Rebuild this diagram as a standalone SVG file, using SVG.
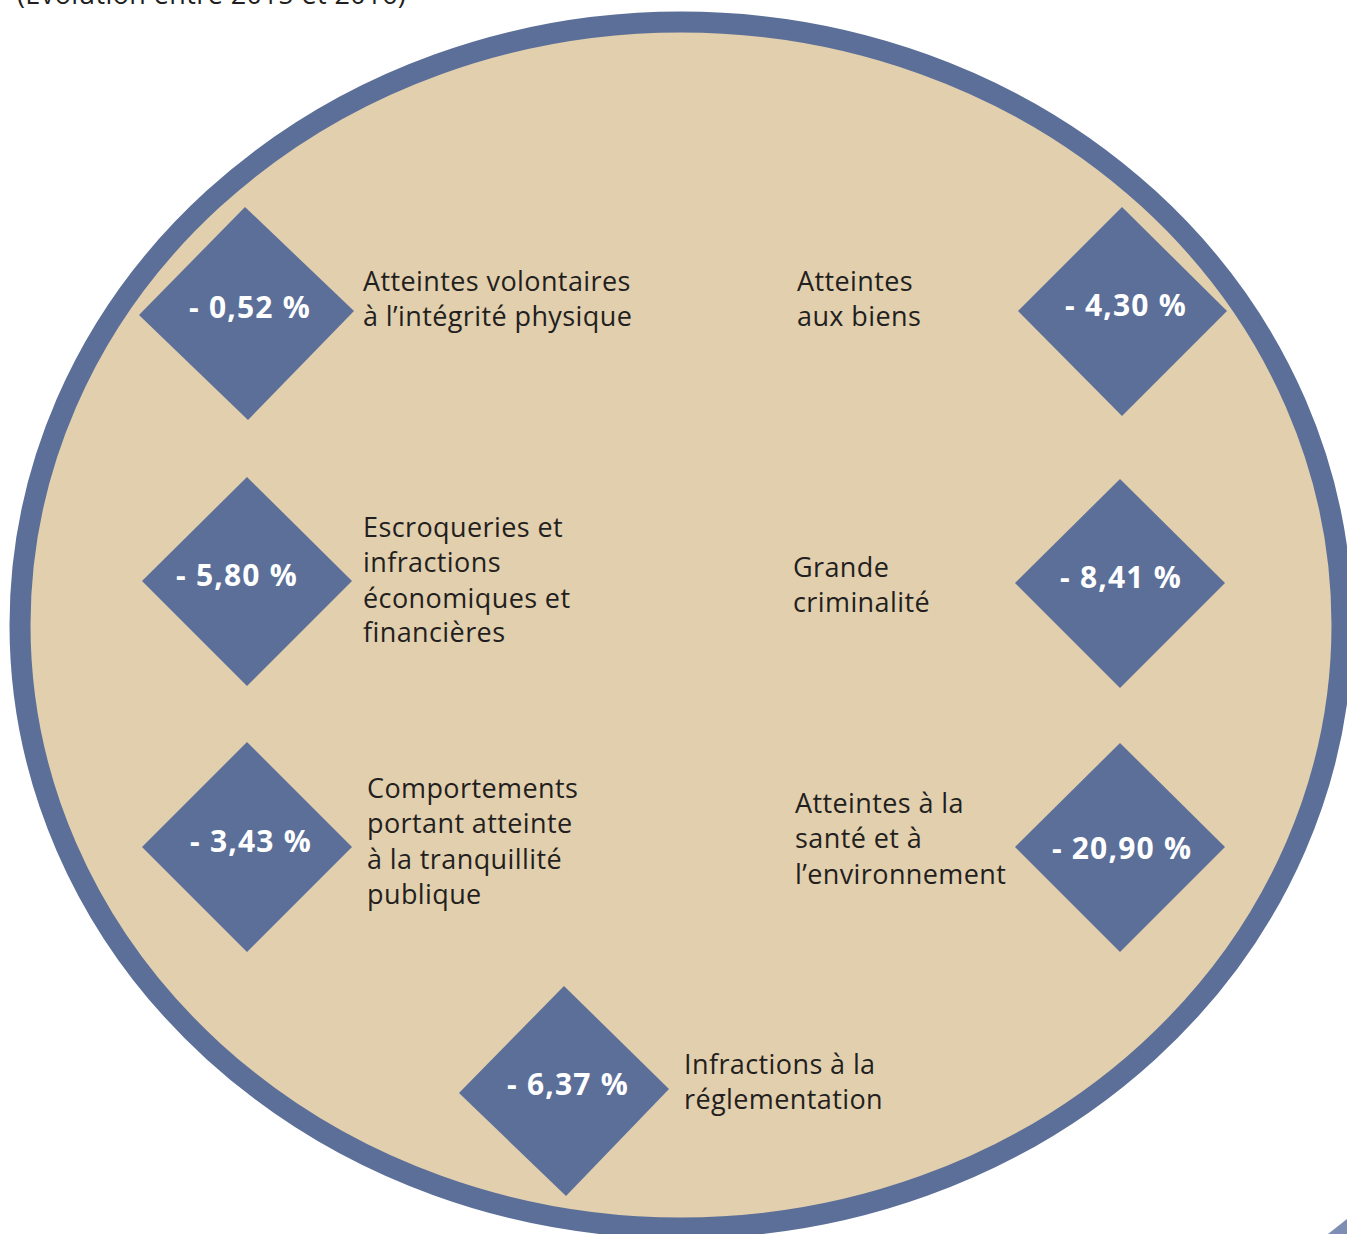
<svg xmlns="http://www.w3.org/2000/svg" width="1347" height="1234" viewBox="0 0 1347 1234">
<style>
.lbl{font-family:"Open Sans","Noto Sans",sans-serif;font-size:27px;letter-spacing:0.4px;fill:#231f20}
.val{font-family:"Open Sans","Noto Sans",sans-serif;font-size:30px;letter-spacing:1.2px;font-weight:bold;fill:#ffffff;text-anchor:middle}
.dia{fill:#5b6f99}
</style>
<rect width="1347" height="1234" fill="#ffffff"/>
<text class="lbl" x="17" y="4">(Évolution entre 2015 et 2016)</text>
<ellipse cx="681" cy="625" rx="661" ry="603" fill="#e2cfae" stroke="#5b6f99" stroke-width="21"/>
<polygon points="1328,1234 1347,1219 1347,1234" fill="#7d8db3"/>
<g id="n1">
<polygon class="dia" points="245,207 354,311 248,420 139,315"/>
<text class="val" x="250" y="318">- 0,52 %</text>
<text class="lbl" x="363" y="291">Atteintes volontaires</text>
<text class="lbl" x="363" y="326">à l’intégrité physique</text>
</g>
<g id="n2">
<polygon class="dia" points="1122,207 1227,311 1122,416 1018,311"/>
<text class="val" x="1126" y="316">- 4,30 %</text>
<text class="lbl" x="797" y="291">Atteintes</text>
<text class="lbl" x="797" y="326">aux biens</text>
</g>
<g id="n3">
<polygon class="dia" points="247,477 352,581 247,686 142,581"/>
<text class="val" x="237" y="586">- 5,80 %</text>
<text class="lbl" x="363" y="537">Escroqueries et</text>
<text class="lbl" x="363" y="572">infractions</text>
<text class="lbl" x="363" y="608">économiques et</text>
<text class="lbl" x="363" y="642">financières</text>
</g>
<g id="n4">
<polygon class="dia" points="1120,479 1225,583 1120,688 1015,583"/>
<text class="val" x="1121" y="588">- 8,41 %</text>
<text class="lbl" x="793" y="577">Grande</text>
<text class="lbl" x="793" y="612">criminalité</text>
</g>
<g id="n5">
<polygon class="dia" points="247,742 352,847 247,952 142,847"/>
<text class="val" x="251" y="852">- 3,43 %</text>
<text class="lbl" x="367" y="798">Comportements</text>
<text class="lbl" x="367" y="833">portant atteinte</text>
<text class="lbl" x="367" y="869">à la tranquillité</text>
<text class="lbl" x="367" y="904">publique</text>
</g>
<g id="n6">
<polygon class="dia" points="1120,743 1225,847 1120,952 1015,847"/>
<text class="val" x="1122" y="859">- 20,90 %</text>
<text class="lbl" x="795" y="813">Atteintes à la</text>
<text class="lbl" x="795" y="848">santé et à</text>
<text class="lbl" x="795" y="884">l’environnement</text>
</g>
<g id="n7">
<polygon class="dia" points="564,986 669,1089 566,1196 459,1093"/>
<text class="val" x="568" y="1095">- 6,37 %</text>
<text class="lbl" x="684" y="1074">Infractions à la</text>
<text class="lbl" x="684" y="1109">réglementation</text>
</g>
<g id="connectors"></g>
</svg>
